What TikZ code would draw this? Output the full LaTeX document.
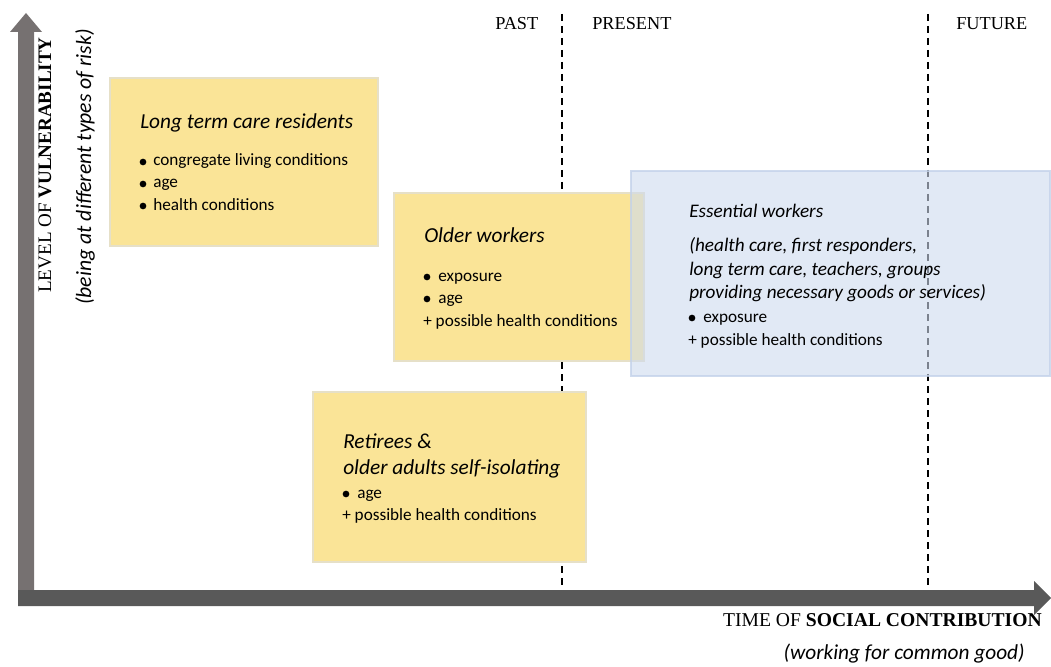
\documentclass[tikz,border=0pt]{standalone}
\usepackage{fontspec}
\setmainfont{Carlito}
\newfontfamily\serifx{Liberation Serif}
\usetikzlibrary{fit}
\definecolor{ylw}{HTML}{FAE497}
\definecolor{ylwline}{HTML}{E6E0C8}
\definecolor{blu}{HTML}{CDDAEE}
\definecolor{bluline}{HTML}{C3D2EA}
\definecolor{axv}{HTML}{767171}
\definecolor{axh}{HTML}{595959}
\tikzset{
  ybox/.style={draw=ylwline, line width=0.8pt, fill=ylw, inner sep=0pt},
  bbox/.style={draw=bluline, line width=0.8pt, fill=blu, fill opacity=0.6, draw opacity=0.8, inner sep=0pt},
  ttl/.style={anchor=base west, inner sep=0pt, font=\fontsize{16}{18}\selectfont\itshape},
  ttls/.style={anchor=base west, inner sep=0pt, font=\fontsize{14.4}{17}\selectfont\itshape},
  txt/.style={anchor=base west, inner sep=0pt, font=\fontsize{12.9}{15}\selectfont},
  bul/.style={circle, fill=black, inner sep=0pt, minimum size=5pt},
  tm/.style={anchor=base west, inner sep=0pt, font=\serifx\fontsize{13.7}{16}\selectfont},
  divider/.style={line width=1.3pt, dash pattern=on 5.5pt off 3.5pt},
}
\begin{document}
\begin{tikzpicture}[x=0.75pt,y=-0.75pt]
\useasboundingbox (0,0) rectangle (1051,667);
% dividers
\coordinate (d1t) at (562,14); \coordinate (d1b) at (562,590);
\coordinate (d2t) at (928,14); \coordinate (d2b) at (928,590);
\draw[divider] (d1t) -- (d1b);
\draw[divider] (d2t) -- (d2b);
% axes
\fill[axv] (18,590) -- (18,32) -- (10,32) -- (26,13) -- (42,32) -- (34,32) -- (34,590) -- cycle;
\fill[axh] (18,590) -- (1034,590) -- (1034,581) -- (1051,598) -- (1034,615) -- (1034,606) -- (18,606) -- cycle;
% boxes
\node[ybox, fit={(110,78) (378,246)}] (ltc) {};
\node[ybox, fit={(394,193) (644,361)}] (ow) {};
\node[ybox, fit={(313,392) (586,562)}] (ret) {};
\node[bbox, fit={(631,171) (1050,376)}] (ess) {};
% time labels
\node[tm] (past) at (495,30) {PAST};
\node[tm] (present) at (592,30) {PRESENT};
\node[tm] (future) at (956,30) {FUTURE};
% axis labels
\node[rotate=90, inner sep=0pt, font=\serifx\fontsize{14.3}{16}\selectfont] (ylab) at (45,165) {LEVEL OF \textbf{VULNERABILITY}};
\node[rotate=90, inner sep=0pt, font=\fontsize{16.3}{18}\selectfont\itshape] (ysub) at (85,167) {(being at different types of risk)};
\node[anchor=base east, inner sep=0pt, font=\serifx\fontsize{14.7}{17}\selectfont] (xlab) at (1042,626) {TIME OF \textbf{SOCIAL CONTRIBUTION}};
\node[anchor=base east, inner sep=0pt, font=\fontsize{16}{18}\selectfont\itshape] (xsub) at (1025,659) {(working for common good)};
% Long term care
\node[ttl] (ltct) at (140,129) {Long term care residents};
\node[bul] (ltcb1) at (143,162) {}; \node[txt] (ltc1) at (153,166) {congregate living conditions};
\node[bul] (ltcb2) at (143,184) {}; \node[txt] (ltc2) at (153,188) {age};
\node[bul] (ltcb3) at (143,206) {}; \node[txt] (ltc3) at (153,210) {health conditions};
% Older workers
\node[ttl] (owt) at (424,243) {Older workers};
\node[bul] (owb1) at (427,277) {}; \node[txt] (ow1) at (438,281) {exposure};
\node[bul] (owb2) at (427,299) {}; \node[txt] (ow2) at (438,303) {age};
\node[txt] (ow3) at (423,326) {+ possible health conditions};
% Essential workers
\node[ttls] (esst) at (689,217) {Essential workers};
\node[ttls] (ess1) at (689,252) {(health care, first responders,};
\node[ttls] (ess2) at (689,275) {long term care, teachers, groups};
\node[ttls] (ess3) at (689,298) {providing necessary goods or services)};
\node[bul] (essb) at (692,318) {}; \node[txt] (ess4) at (703,322) {exposure};
\node[txt] (ess5) at (688,345) {+ possible health conditions};
% Retirees
\node[ttl] (rett1) at (343,448) {Retirees \&};
\node[ttl] (rett2) at (343,474) {older adults self-isolating};
\node[bul] (retb) at (346,494) {}; \node[txt] (ret1) at (357,498) {age};
\node[txt] (ret2) at (342,520) {+ possible health conditions};
\end{tikzpicture}
\end{document}
